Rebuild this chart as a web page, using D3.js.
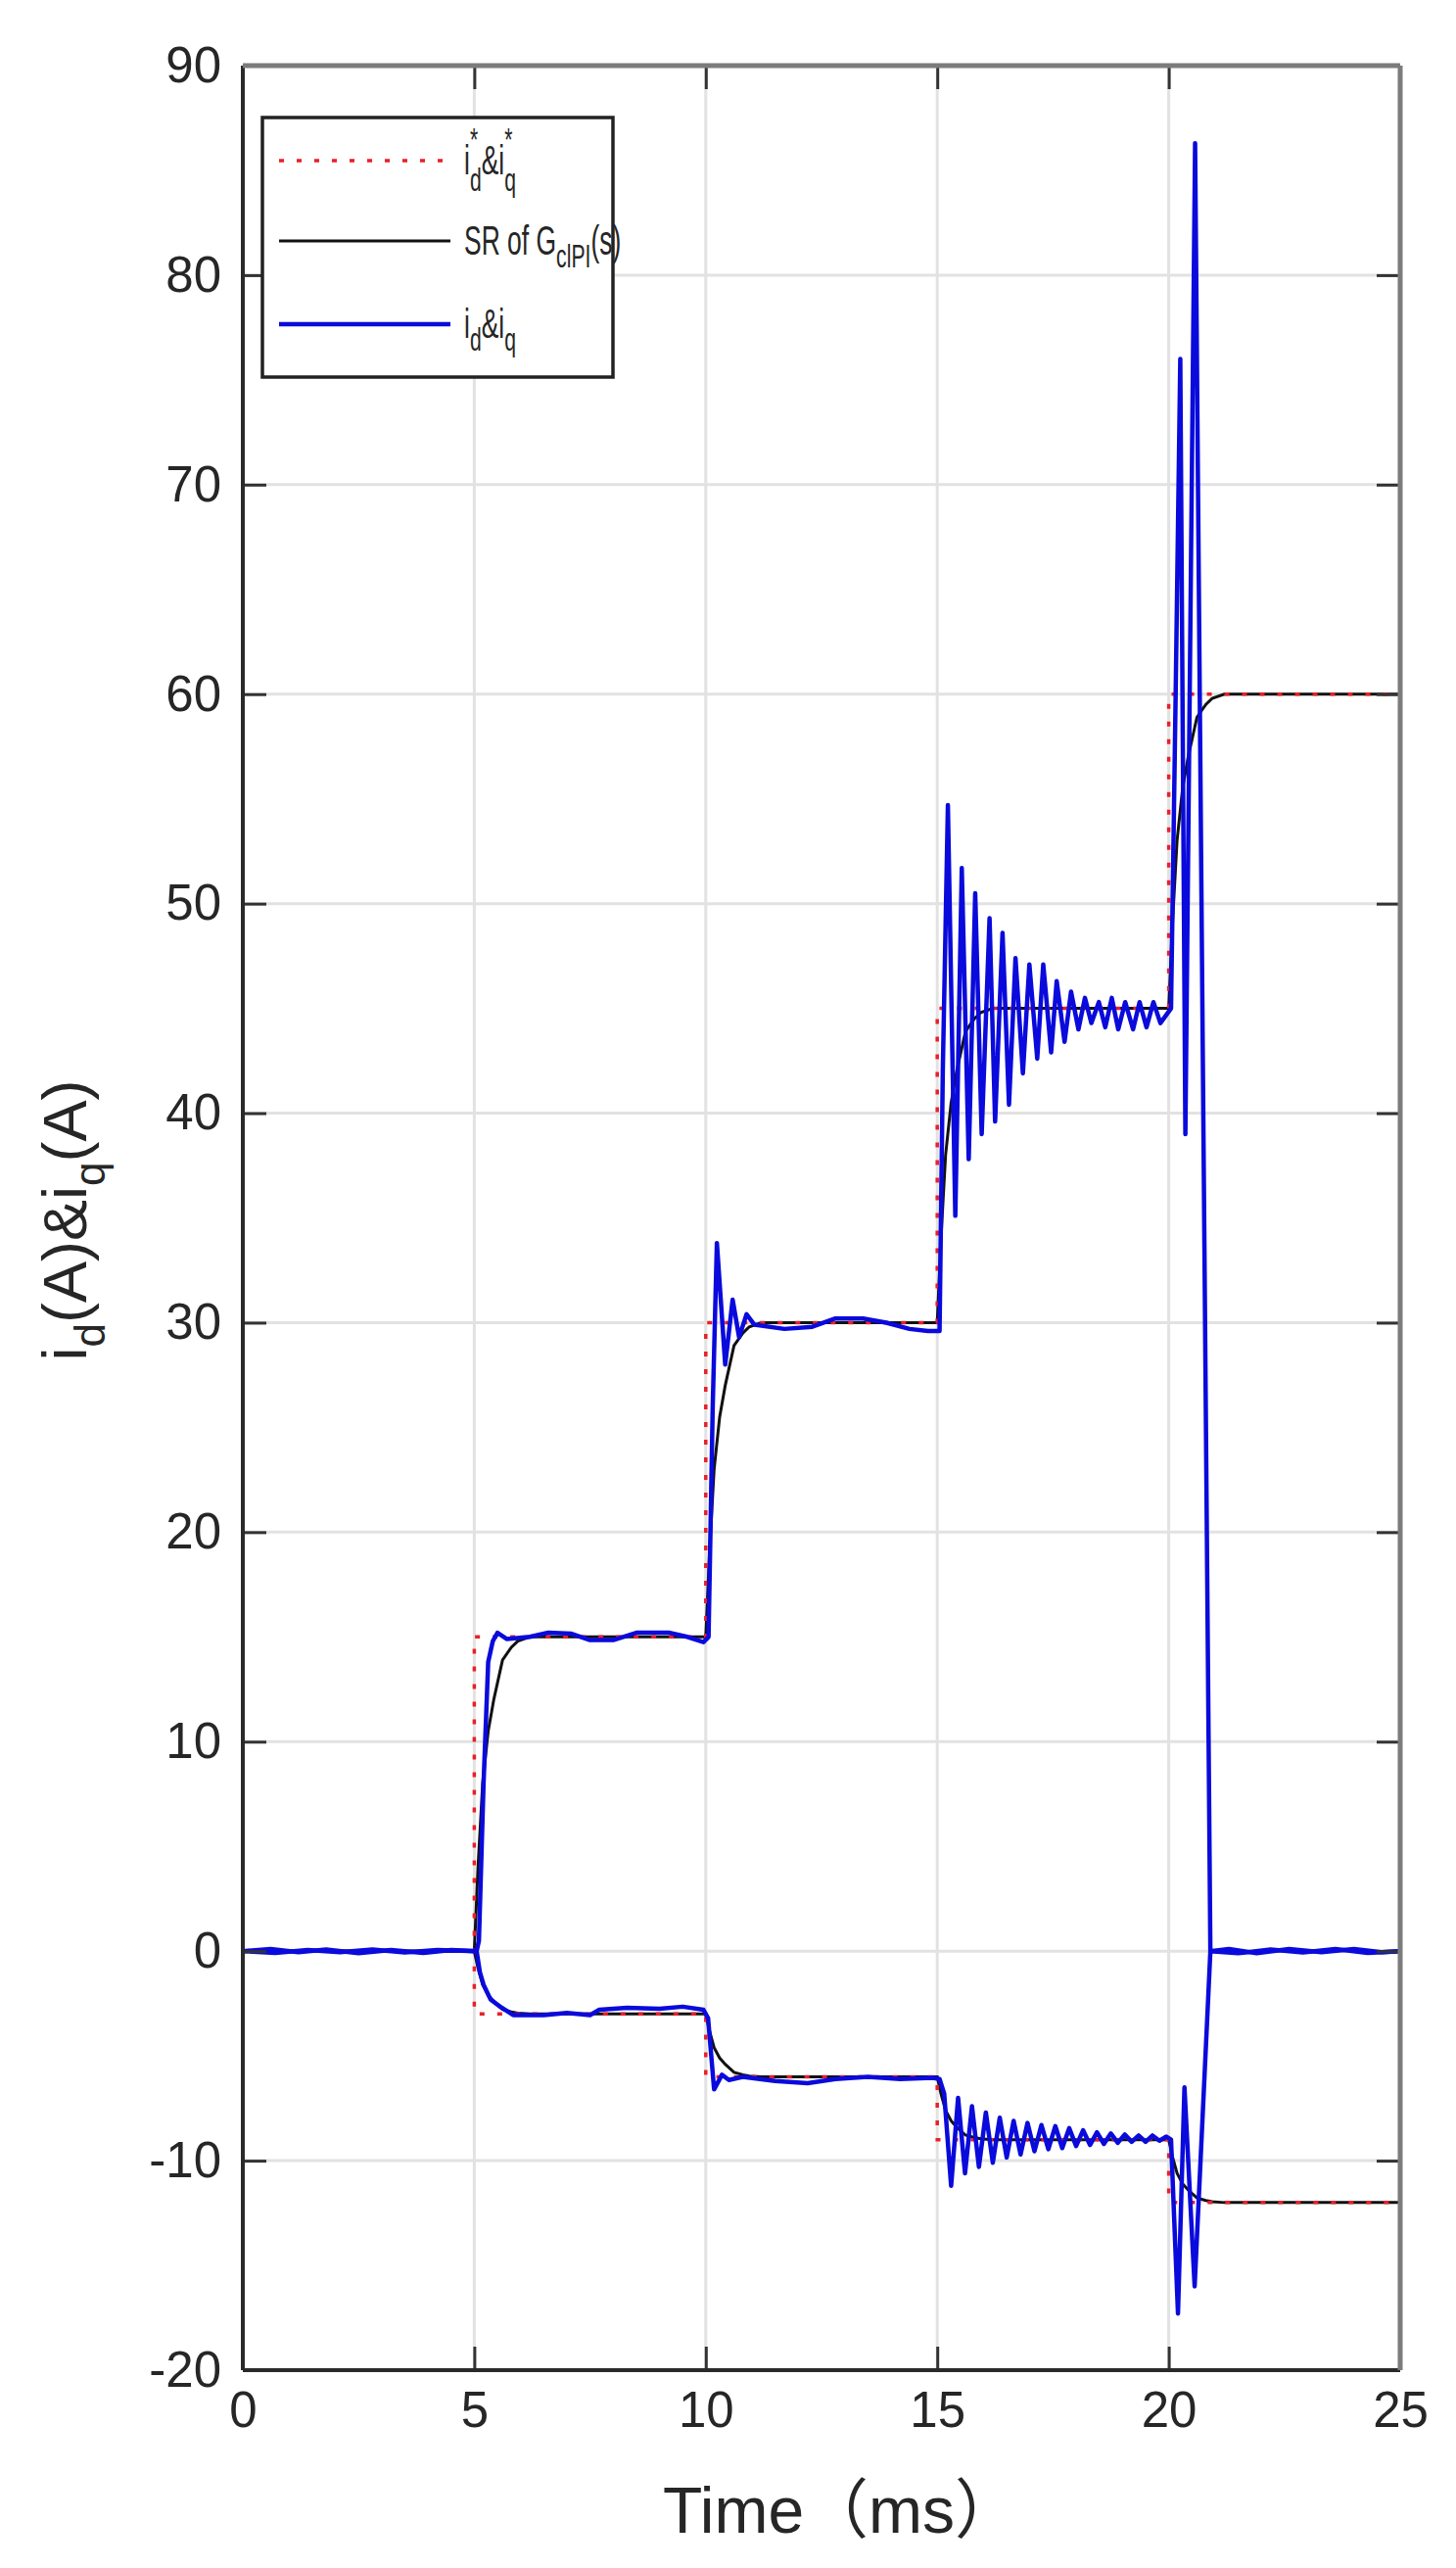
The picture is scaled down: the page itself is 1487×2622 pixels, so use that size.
<!DOCTYPE html>
<html>
<head>
<meta charset="utf-8">
<script src="https://cdnjs.cloudflare.com/ajax/libs/d3/7.8.5/d3.min.js"></script>
<style>
body { margin: 0; background: #fff; }
text { font-family: "Liberation Sans", Arial, "Noto Sans CJK SC", sans-serif; fill: #262626; }
</style>
</head>
<body>
<script>
// axis ticks
var xTicks = [0, 5, 10, 15, 20, 25];
var yTicks = [-20, -10, 0, 10, 20, 30, 40, 50, 60, 70, 80, 90];

// reference currents i_d*, i_q*  [time ms, A]
var idRef = [[0,0],[5,0],[5,15],[10,15],[10,30],[15,30],[15,45],[20,45],[20,60],[25,60]];
var iqRef = [[0,0],[5,0],[5,-3],[10,-3],[10,-6],[15,-6],[15,-9],[20,-9],[20,-12],[25,-12]];

// step response of G_clPI(s)
var srD = [[0,0],[5,0],[5.08,4],[5.18,8],[5.3,10.5],[5.42,12],[5.61,13.9],[5.8,14.5],[5.94,14.8],[6.2,15],
  [10,15],[10.08,19],[10.18,23],[10.3,25.5],[10.42,27],[10.61,28.9],[10.8,29.5],[10.94,29.8],[11.2,30],
  [15,30],[15.08,34],[15.18,38],[15.3,40.5],[15.42,42],[15.61,43.9],[15.8,44.5],[15.94,44.8],[16.2,45],
  [20,45],[20.08,49],[20.18,53],[20.3,55.5],[20.42,57],[20.61,58.9],[20.8,59.5],[20.94,59.8],[21.2,60],[25,60]];
var srQ = [[0,0],[5,0],[5.08,-0.8],[5.18,-1.6],[5.3,-2.1],[5.42,-2.4],[5.61,-2.78],[5.8,-2.9],[5.94,-2.96],[6.2,-3],
  [10,-3],[10.08,-3.8],[10.18,-4.6],[10.3,-5.1],[10.42,-5.4],[10.61,-5.78],[10.8,-5.9],[10.94,-5.96],[11.2,-6],
  [15,-6],[15.08,-6.8],[15.18,-7.6],[15.3,-8.1],[15.42,-8.4],[15.61,-8.78],[15.8,-8.9],[15.94,-8.96],[16.2,-9],
  [20,-9],[20.08,-9.8],[20.18,-10.6],[20.3,-11.1],[20.42,-11.4],[20.61,-11.78],[20.8,-11.9],[20.94,-11.96],[21.2,-12],[25,-12]];

// measured i_d, i_q
var idMeas = [[0,0],[0.6,0.1],[1.2,-0.05],[1.8,0.08],[2.5,-0.1],[3.2,0.05],[3.9,-0.08],[4.5,0.06],[5.05,0],
  [5.1,0.5],[5.2,8],[5.3,13.8],[5.4,14.8],[5.5,15.2],[5.7,14.9],[6.2,15],[6.6,15.2],[7.1,15.15],[7.5,14.85],
  [8,14.85],[8.5,15.2],[9.2,15.2],[9.6,15],[9.95,14.75],[10.06,15],[10.15,26],[10.24,33.8],[10.42,28],
  [10.58,31.1],[10.72,29.3],[10.88,30.4],[11.05,29.9],[11.7,29.7],[12.3,29.8],[12.8,30.2],[13.4,30.2],
  [13.9,30],[14.4,29.7],[14.8,29.6],[15.05,29.6],[15.12,42],[15.23,54.7],[15.39,35.1],[15.53,51.7],
  [15.68,37.8],[15.82,50.5],[15.96,39.0],[16.13,49.3],[16.25,39.6],[16.41,48.6],[16.55,40.4],[16.69,47.4],
  [16.85,41.9],[16.99,47.1],[17.16,42.6],[17.29,47.1],[17.46,42.9],[17.58,46.3],[17.75,43.4],[17.89,45.8],
  [18.05,44.0],[18.19,45.5],[18.33,44.3],[18.49,45.3],[18.63,44.1],[18.77,45.5],[18.91,44.0],[19.06,45.3],
  [19.23,44.0],[19.37,45.3],[19.52,44.1],[19.67,45.3],[19.82,44.3],[20.05,45],[20.15,60],[20.25,76],
  [20.36,39],[20.57,86.3],[20.9,0],[21.3,0.1],[21.9,-0.1],[22.6,0.1],[23.3,-0.05],[24,0.1],[24.6,-0.05],[25,0]];
var iqMeas = [[0,0],[0.7,-0.08],[1.4,0.06],[2.1,-0.05],[2.8,0.08],[3.5,-0.06],[4.2,0.05],[5.05,0],
  [5.12,-1.0],[5.2,-1.6],[5.35,-2.3],[5.56,-2.65],[5.84,-3.05],[6.5,-3.05],[7.0,-2.95],[7.5,-3.05],
  [7.7,-2.8],[8.3,-2.7],[9.0,-2.75],[9.5,-2.65],[9.95,-2.8],[10.05,-3.2],[10.18,-6.6],[10.35,-5.9],
  [10.5,-6.15],[10.8,-6.0],[11.5,-6.2],[12.2,-6.3],[12.8,-6.1],[13.5,-6.0],[14.2,-6.1],[14.9,-6.05],
  [15.05,-6.1],[15.15,-6.8],[15.3,-11.2],[15.45,-7.0],[15.6,-10.6],[15.75,-7.4],[15.9,-10.3],[16.05,-7.7],
  [16.2,-10.1],[16.35,-7.95],[16.5,-9.85],[16.65,-8.1],[16.8,-9.7],[16.95,-8.2],[17.1,-9.55],[17.25,-8.3],
  [17.4,-9.45],[17.55,-8.35],[17.7,-9.4],[17.85,-8.45],[18.0,-9.3],[18.15,-8.55],[18.3,-9.25],[18.45,-8.65],
  [18.6,-9.2],[18.75,-8.7],[18.9,-9.15],[19.05,-8.75],[19.2,-9.1],[19.35,-8.8],[19.5,-9.1],[19.65,-8.8],
  [19.8,-9.05],[19.95,-8.85],[20.05,-9.0],[20.2,-17.3],[20.34,-6.5],[20.56,-16],[20.9,0],[21.5,-0.1],
  [22.2,0.08],[22.9,-0.06],[23.6,0.1],[24.3,-0.08],[25,0]];

var W = 1487, H = 2622;
var plot = {left: 248, right: 1430, top: 67, bottom: 2420};

var svg = d3.select('body').append('svg')
    .attr('width', W)
    .attr('height', H);

var x = d3.scaleLinear().domain([0, 25]).range([plot.left, plot.right]);
var y = d3.scaleLinear().domain([-20, 90]).range([plot.bottom, plot.top]);

// grid
svg.append('g').selectAll('line.gx')
    .data(xTicks).enter().append('line')
    .attr('x1', d => x(d)).attr('x2', d => x(d))
    .attr('y1', plot.top).attr('y2', plot.bottom)
    .style('stroke', '#e2e2e2').style('stroke-width', 3);
svg.append('g').selectAll('line.gy')
    .data(yTicks).enter().append('line')
    .attr('x1', plot.left).attr('x2', plot.right)
    .attr('y1', d => y(d)).attr('y2', d => y(d))
    .style('stroke', '#e2e2e2').style('stroke-width', 3);

var line = d3.line().x(d => x(d[0])).y(d => y(d[1]));

svg.append('clipPath').attr('id', 'clip').append('rect')
    .attr('x', plot.left).attr('y', plot.top)
    .attr('width', plot.right - plot.left).attr('height', plot.bottom - plot.top);

var lines = svg.append('g').attr('clip-path', 'url(#clip)');

[srD, srQ].forEach(function(s) {
  lines.append('path').attr('d', line(s))
    .style('fill', 'none').style('stroke', '#111').style('stroke-width', 3);
});
[idRef, iqRef].forEach(function(s) {
  lines.append('path').attr('d', line(s))
    .style('fill', 'none').style('stroke', '#e8202a').style('stroke-width', 3.5)
    .style('stroke-dasharray', '5,13');
});
[idMeas, iqMeas].forEach(function(s) {
  lines.append('path').attr('d', line(s))
    .style('fill', 'none').style('stroke', '#0a0adc').style('stroke-width', 4.5)
    .style('stroke-linejoin', 'round');
});

// axes with inward ticks
var tickLen = 24;
var fmt = function(d) { return String(d); };
var gl = svg.append('g').attr('transform', 'translate(' + plot.left + ',0)')
    .call(d3.axisLeft(y).tickValues(yTicks).tickFormat(fmt).tickSizeInner(-tickLen).tickSizeOuter(0).tickPadding(22));
var gb = svg.append('g').attr('transform', 'translate(0,' + plot.bottom + ')')
    .call(d3.axisBottom(x).tickValues(xTicks).tickFormat(fmt).tickSizeInner(-tickLen).tickSizeOuter(0).tickPadding(22));
var gr = svg.append('g').attr('transform', 'translate(' + plot.right + ',0)')
    .call(d3.axisRight(y).tickValues(yTicks).tickSizeInner(-tickLen).tickSizeOuter(0).tickFormat(''));
var gt = svg.append('g').attr('transform', 'translate(0,' + plot.top + ')')
    .call(d3.axisTop(x).tickValues(xTicks).tickSizeInner(-tickLen).tickSizeOuter(0).tickFormat(''));

[gl, gb, gr, gt].forEach(function(g) {
  g.select('.domain').remove();
  g.selectAll('.tick line').style('stroke', '#333').style('stroke-width', 3);
  g.selectAll('.tick text')
    .style('font-family', '"Liberation Sans", Arial, sans-serif')
    .style('font-size', '51px').style('fill', '#262626');
});

// box
svg.append('line').attr('x1', plot.left).attr('x2', plot.left).attr('y1', plot.top).attr('y2', plot.bottom)
    .style('stroke', '#2a2a2a').style('stroke-width', 4);
svg.append('line').attr('x1', plot.left).attr('x2', plot.right).attr('y1', plot.bottom).attr('y2', plot.bottom)
    .style('stroke', '#2a2a2a').style('stroke-width', 4);
svg.append('line').attr('x1', plot.right).attr('x2', plot.right).attr('y1', plot.top).attr('y2', plot.bottom)
    .style('stroke', '#7c7c7c').style('stroke-width', 5);
svg.append('line').attr('x1', plot.left).attr('x2', plot.right).attr('y1', plot.top).attr('y2', plot.top)
    .style('stroke', '#7c7c7c').style('stroke-width', 5);

// text with sub/superscripts
function richText(sel, px, py, size, segs, small) {
  small = small || 0.7;
  var t = sel.append('text').attr('x', px).attr('y', py).style('font-size', size + 'px');
  var level = 0;
  segs.forEach(function(s) {
    var target = s.pos === 'sup' ? -size * 0.58 : (s.pos === 'sub' ? size * (s.back ? 0.4 : 0.3) : 0);
    var ts = t.append('tspan').attr('dy', target - level).text(s.text);
    if (s.pos) ts.style('font-size', (size * small) + 'px');
    if (s.back) ts.attr('dx', -s.back);
    level = target;
  });
  return t;
}

// axis titles
svg.append('text')
    .attr('x', (plot.left + plot.right) / 2 + 20).attr('y', 2586)
    .attr('text-anchor', 'middle')
    .style('font-size', '66px')
    .text('Time（ms）');

richText(svg.append('g').attr('transform', 'translate(88,1246) rotate(-90)'), 0, 0, 63, [
  {text: 'i'}, {text: 'd', pos: 'sub'}, {text: '(A)&i'}, {text: 'q', pos: 'sub'}, {text: '(A)'}
]).attr('text-anchor', 'middle');

// legend
var lg = svg.append('g');
lg.append('rect').attr('x', 268).attr('y', 120).attr('width', 358).attr('height', 265)
    .style('fill', '#fff').style('stroke', '#222').style('stroke-width', 3.5);

var lsize = 42, lsmall = 0.8, starW = 0.389 * lsize * lsmall;
var entries = [
  {y: 164, stroke: '#e8202a', dash: '5,13', w: 3.5,
   segs: [{text: 'i'}, {text: '*', pos: 'sup'}, {text: 'd', pos: 'sub', back: starW}, {text: '&i'},
          {text: '*', pos: 'sup'}, {text: 'q', pos: 'sub', back: starW}]},
  {y: 246, stroke: '#111', dash: null, w: 3,
   segs: [{text: 'SR of G'}, {text: 'clPI', pos: 'sub'}, {text: '(s)'}]},
  {y: 331, stroke: '#0a0adc', dash: null, w: 4.5,
   segs: [{text: 'i'}, {text: 'd', pos: 'sub'}, {text: '&i'}, {text: 'q', pos: 'sub'}]}
];
entries.forEach(function(e) {
  lg.append('line').attr('x1', 285).attr('x2', 460).attr('y1', e.y).attr('y2', e.y)
    .style('stroke', e.stroke).style('stroke-width', e.w)
    .style('stroke-dasharray', e.dash);
  var g = lg.append('g').attr('transform', 'translate(474,' + (e.y + lsize * 0.34) + ') scale(0.63,1)');
  richText(g, 0, 0, lsize, e.segs, lsmall);
});
</script>
</body>
</html>
